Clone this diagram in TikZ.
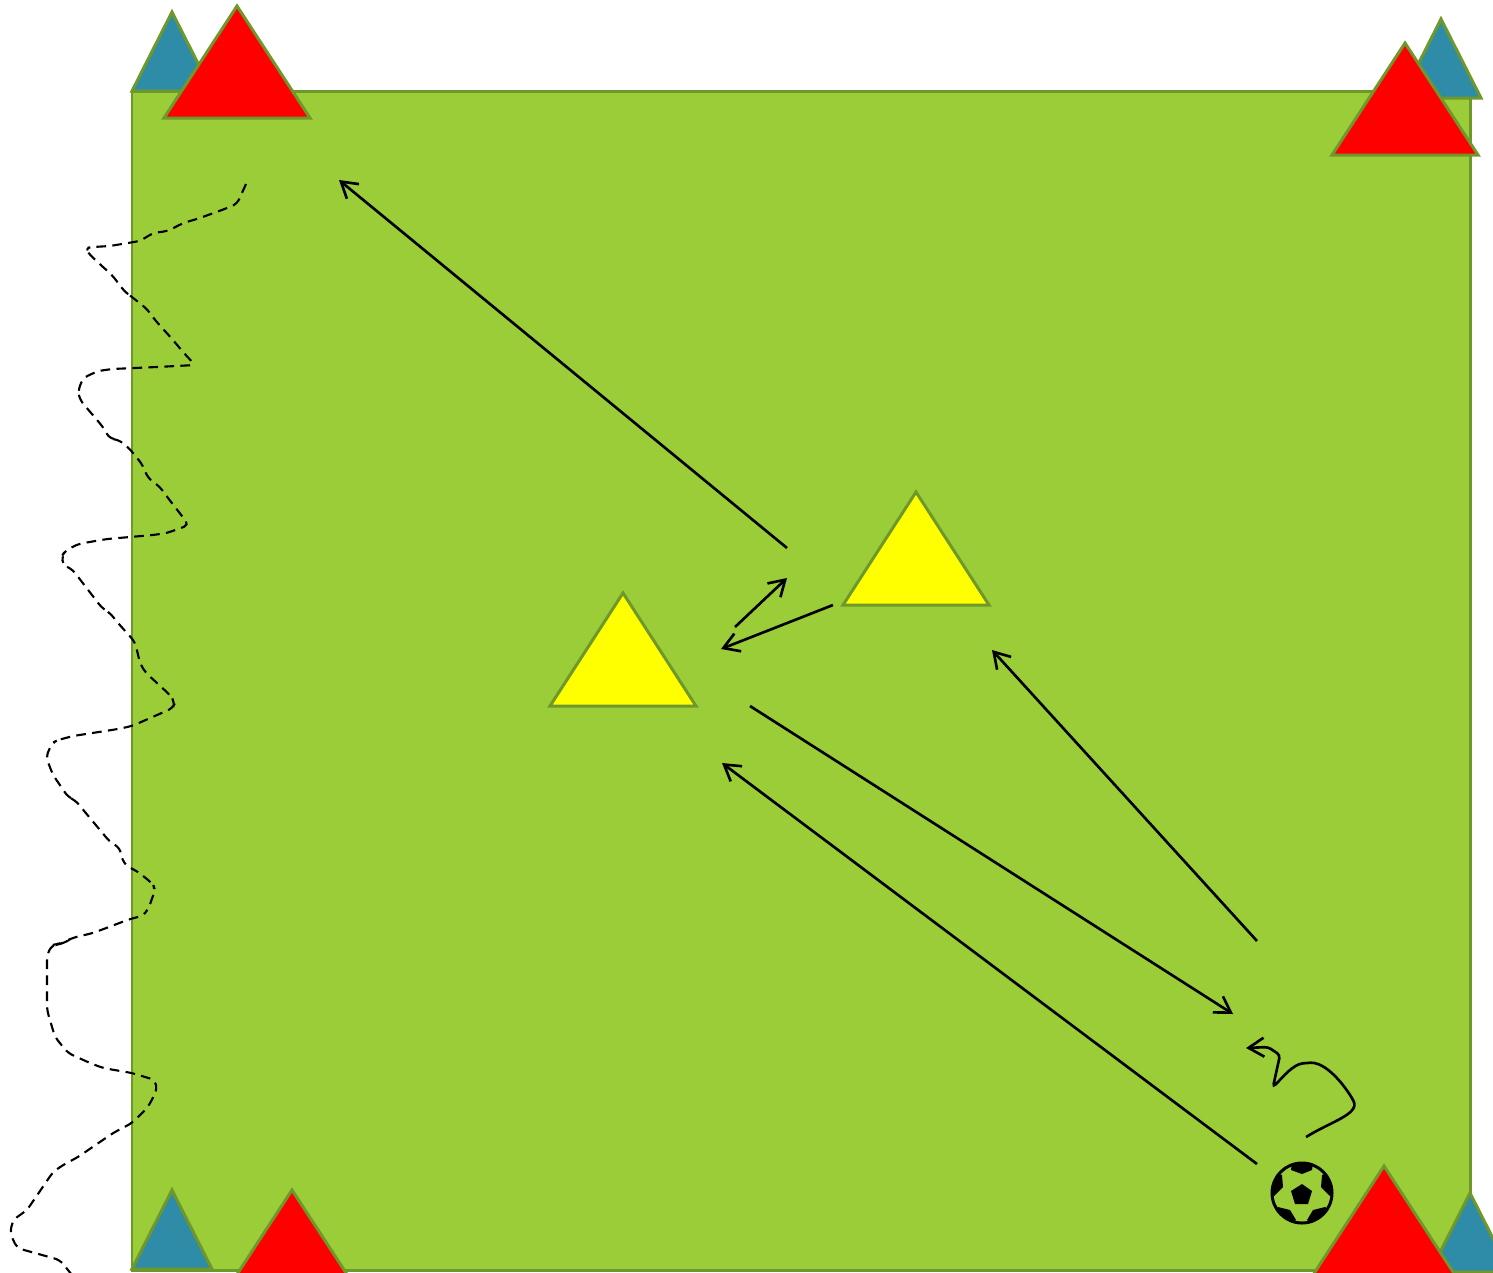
\documentclass[tikz,border=0pt]{standalone}
\usepackage{tikz}
\usetikzlibrary{positioning, arrows.meta}

\definecolor{fieldgreen}{HTML}{9ACD37}
\definecolor{edgegreen}{HTML}{6F982B}
\definecolor{coneblue}{HTML}{2E8CA8}
\definecolor{conered}{HTML}{FF0000}
\definecolor{coneyellow}{HTML}{FFFF00}

\begin{document}
\begin{tikzpicture}[
    x=0.02cm, y=-0.02cm,
    % Style for the playing field and the cones
    field/.style = {draw=edgegreen, fill=fieldgreen, line width=1.7pt},
    bluecone/.style = {draw=edgegreen, fill=coneblue, line width=1.7pt},
    redcone/.style = {draw=edgegreen, fill=conered, line width=1.7pt},
    yellowcone/.style = {draw=edgegreen, fill=coneyellow, line width=1.7pt},
    % Style for the arrows: open tips, all the same weight
    pass/.style = {-{Straight Barb[length=8.8pt,width=10.8pt,line width=1.5pt]}, line width=1.5pt, black},
    run/.style = {black, line width=1.2pt, dash pattern=on 5.5pt off 3.6pt}
]

    \useasboundingbox (0,0) rectangle (1493,1272);
    \clip (0,0) rectangle (1493,1272);

    % --- FIELD ---
    \draw[field] (132,91) rectangle (1470,1270);

    % --- CONES AT THE CORNERS ---
    \foreach \x/\y in {172/12, 1441/19, 172/1190, 1470/1193} {
        \draw[bluecone] (\x,\y) -- ++(40,79) -- ++(-80,0) -- cycle;
    }
    \foreach \x/\y in {237/6, 1405/43, 292/1190, 1384/1166} {
        \draw[redcone] (\x,\y) -- ++(73,112) -- ++(-146,0) -- cycle;
    }

    % --- CONES IN THE MIDDLE ---
    \foreach \x/\y in {916/492, 623/593} {
        \draw[yellowcone] (\x,\y) -- ++(73,113) -- ++(-146,0) -- cycle;
    }

    % --- ENDS OF THE ARROWS ---
    \coordinate (A1) at (787,548);
    \coordinate (A2) at (339,180);
    \coordinate (B1) at (735,627);
    \coordinate (B2) at (787,578);
    \coordinate (C1) at (833,605);
    \coordinate (C2) at (721,649);
    \coordinate (D1) at (1257,941);
    \coordinate (D2) at (992,650);
    \coordinate (E1) at (750,706);
    \coordinate (E2) at (1233,1014);
    \coordinate (F1) at (1257,1164);
    \coordinate (F2) at (722,763);
    \coordinate (G1) at (1306,1137);
    \coordinate (G2) at (1246,1048);

    % --- PASSES ---
    \draw[pass] (A1) -- (A2);
    \draw[pass] (B1) -- (B2);
    \draw[pass] (C1) -- (C2);
    \draw[pass] (D1) -- (D2);
    \draw[pass] (E1) -- (E2);
    \draw[pass] (F1) -- (F2);

    % Curl above the ball
    \draw[pass, rounded corners=2pt] (G1)
        .. controls (1330,1122) and (1360,1114) .. (1352,1098)
        .. controls (1335,1072) and (1320,1062) .. (1307,1063)
        .. controls (1293,1064) and (1283,1077) .. (1273,1087)
        -- (1280,1055) -- (1268,1047) -- (G2);

    % --- DRIBBLE ---
    \draw[run, rounded corners=3pt] (246,184) -- (237,204) -- (222,210) -- (197,219) -- (183,223)
        -- (168,231) -- (153,233) -- (140,241) -- (110,246) -- (93,247) -- (85,248) -- (90,255)
        -- (103,267) -- (112,275) -- (125,292) -- (132,297) -- (147,309) -- (155,320) -- (173,340)
        -- (183,352) -- (195,365) -- (157,367) -- (112,369) -- (98,371) -- (83,378) -- (78,391)
        -- (80,400) -- (103,427) -- (110,439) -- (117,439) -- (128,447) -- (142,464) -- (148,478)
        -- (160,487) -- (168,498) -- (189,525) -- (167,533) -- (153,535) -- (130,537) -- (107,539)
        -- (78,544) -- (65,551) -- (62,556) -- (63,565) -- (72,569) -- (82,582) -- (102,608)
        -- (110,613) -- (118,623) -- (135,642) -- (140,663) -- (145,672) -- (170,695) -- (175,703)
        -- (173,708) -- (132,726) -- (118,729) -- (73,736) -- (58,740) -- (52,743) -- (46,757)
        -- (53,775) -- (62,788) -- (68,797) -- (75,800) -- (110,842) -- (120,848) -- (122,860)
        -- (128,867) -- (137,871) -- (153,884) -- (155,890) -- (148,910) -- (142,916) -- (130,919)
        -- (93,933) -- (72,938) -- (58,945) -- (70,940) -- (58,944) -- (52,945) -- (47,955)
        -- (47,1010) -- (55,1037) -- (68,1053) -- (90,1063) -- (103,1068) -- (132,1073)
        -- (155,1080) -- (157,1090) -- (148,1107) -- (132,1123) -- (113,1133) -- (78,1157)
        -- (63,1165) -- (53,1172) -- (27,1210) -- (13,1220) -- (10,1233) -- (17,1248)
        -- (60,1260) -- (72,1275);

    % --- BALL ---
    \begin{scope}
        \clip (1302,1193) circle (31);
        \fill[black] (1292,1163) -- (1313,1163) -- (1312,1170) -- (1302,1174) -- (1291,1170) -- cycle;
        \fill[black] (1282,1175) -- (1283,1187) -- (1274,1196) -- (1268,1192) -- (1272,1172) -- cycle;
        \fill[black] (1322,1175) -- (1321,1187) -- (1330,1196) -- (1336,1192) -- (1332,1172) -- cycle;
        \fill[black] (1278,1207) -- (1290,1210) -- (1296,1220) -- (1288,1226) -- (1270,1215) -- cycle;
        \fill[black] (1325,1207) -- (1313,1210) -- (1307,1220) -- (1315,1226) -- (1334,1215) -- cycle;
    \end{scope}
    \node[draw, circle, line width=1.7pt, minimum size=1.2cm, inner sep=0pt] (ball) at (1302,1193) {};
    \fill[black] (1302,1184) -- (1312,1191) -- (1308,1204) -- (1295,1204) -- (1291,1191) -- cycle;

\end{tikzpicture}
\end{document}
